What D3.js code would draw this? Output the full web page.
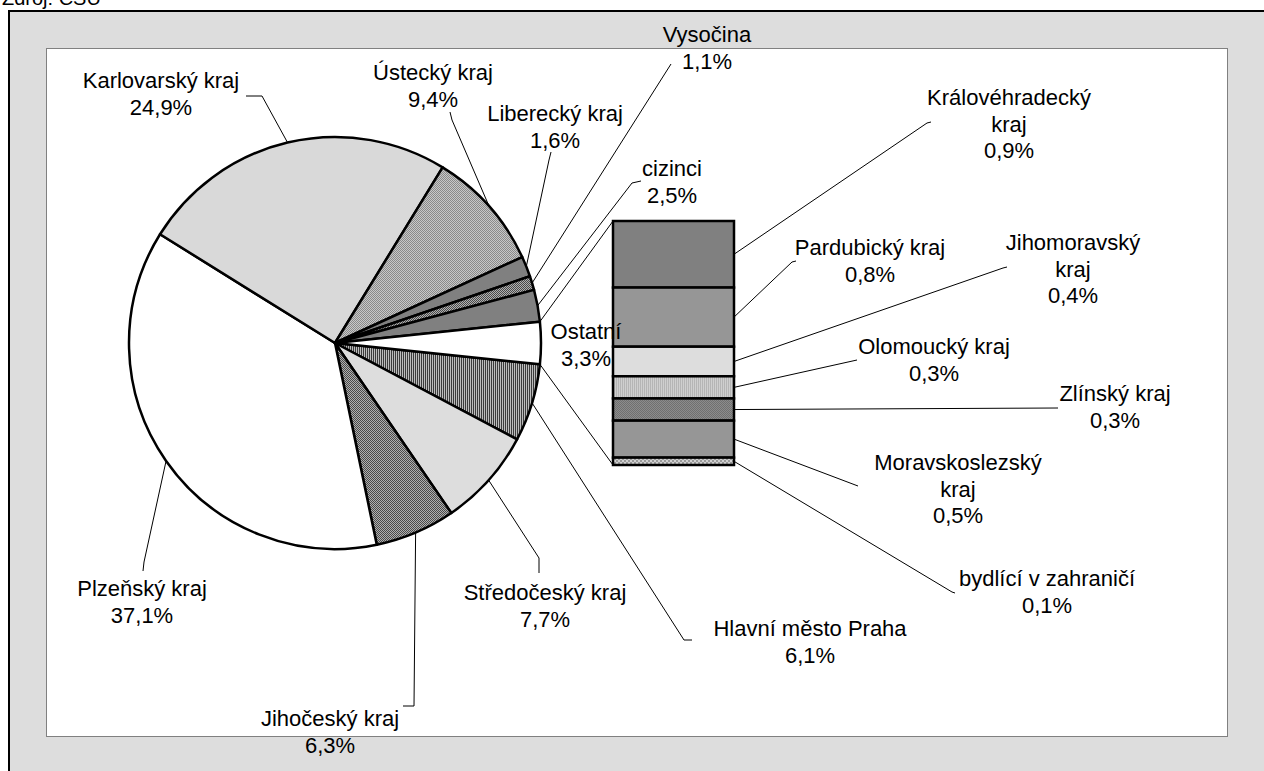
<!DOCTYPE html>
<html>
<head>
<meta charset="utf-8">
<script src="https://cdn.jsdelivr.net/npm/d3@7"></script>
<style>
  body { margin: 0; background: #fff; overflow: hidden; }
  svg { display: block; font-family: Arial, "Liberation Sans", sans-serif; }
</style>
</head>
<body>
<svg id="chart" width="1264" height="771"></svg>
<script>
// data
const pieNames = ['Hlavní město Praha', 'Středočeský kraj', 'Jihočeský kraj', 'Plzeňský kraj', 'Karlovarský kraj',
                  'Ústecký kraj', 'Liberecký kraj', 'Vysočina', 'cizinci', 'Ostatní'];
const pieValues = [6.1, 7.7, 6.3, 37.1, 24.9, 9.4, 1.6, 1.1, 2.5, 3.3];
const barNames = ['Královéhradecký kraj', 'Pardubický kraj', 'Jihomoravský kraj', 'Olomoucký kraj',
                  'Zlínský kraj', 'Moravskoslezský kraj', 'bydlící v zahraničí'];
const barValues = [0.9, 0.8, 0.4, 0.3, 0.3, 0.5, 0.1];
const sourceNote = 'Zdroj: ČSÚ';

// fills (excel style patterns)
const fills = {
  'Hlavní město Praha': 'url(#vstripe)',
  'Středočeský kraj': '#dddddd',
  'Jihočeský kraj': 'url(#checkDark)',
  'Plzeňský kraj': '#ffffff',
  'Karlovarský kraj': '#d9d9d9',
  'Ústecký kraj': 'url(#checkMid)',
  'Liberecký kraj': '#808080',
  'Vysočina': 'url(#checkDark)',
  'cizinci': '#808080',
  'Ostatní': '#ffffff',
  'Královéhradecký kraj': '#808080',
  'Pardubický kraj': '#969696',
  'Jihomoravský kraj': '#dddddd',
  'Olomoucký kraj': 'url(#vstripeLight)',
  'Zlínský kraj': 'url(#checkSoft)',
  'Moravskoslezský kraj': '#969696',
  'bydlící v zahraničí': 'url(#checkLight)'
};

// label placement: centre x, first baseline, leader bend points
const labelPos = {
  'Hlavní město Praha': { x: 810, y: 636, leader: [[684, 640], [692, 640]] },
  'Středočeský kraj': { x: 545, y: 600, leader: [[539, 558], [539, 573]] },
  'Jihočeský kraj': { x: 330, y: 726, leader: [[414, 706], [403, 706]] },
  'Plzeňský kraj': { x: 142, y: 596, leader: [[144, 562], [143, 571]] },
  'Karlovarský kraj': { x: 161, y: 88, leader: [[262, 96], [246, 96]] },
  'Ústecký kraj': { x: 433, y: 80, leader: [[452, 120], [450, 112]] },
  'Liberecký kraj': { x: 555, y: 121, leader: [[549, 160], [551, 152]] },
  'Vysočina': { x: 707, y: 42, leader: [[671, 64]] },
  'cizinci': { x: 672, y: 176, leader: [[632, 183], [641, 181]] },
  'Ostatní': { x: 586, y: 339, leader: null },
  'Královéhradecký kraj': { x: 1009, y: 105, wrap: true, leader: [[927, 123], [931, 122]] },
  'Pardubický kraj': { x: 870, y: 255, leader: [[792, 262], [796, 261]] },
  'Jihomoravský kraj': { x: 1073, y: 250, wrap: true, leader: [[1003, 268], [1007, 267]] },
  'Olomoucký kraj': { x: 934, y: 354, leader: [[857, 360]] },
  'Zlínský kraj': { x: 1115, y: 401, leader: [[1058, 408]] },
  'Moravskoslezský kraj': { x: 958, y: 470, wrap: true, leader: [[858, 486]] },
  'bydlící v zahraničí': { x: 1047, y: 586, leader: [[952, 592], [955, 593]] }
};

const cx = 335, cy = 343, radius = 206;
const barX = 613, barW = 121;
const fontSize = 22, lineGap = 26.5;

const locale = d3.formatLocale({ decimal: ',', thousands: ' ', grouping: [3], currency: ['', ''] });
const fmt = v => locale.format('.1f')(v) + '%';

const svg = d3.select('#chart');
const defs = svg.append('defs');

function addPattern(id, w, h, bg, cells) {
  const p = defs.append('pattern')
                .attr('id', id)
                .attr('patternUnits', 'userSpaceOnUse')
                .attr('width', w)
                .attr('height', h);
  p.append('rect').attr('width', w).attr('height', h).attr('fill', bg);
  cells.forEach(c => {
    p.append('rect').attr('x', c[0]).attr('y', c[1]).attr('width', c[2]).attr('height', c[3]).attr('fill', c[4]);
  });
}
addPattern('vstripe', 2, 2, '#bdbdbd', [[0, 0, 1, 2, '#3c3c3c']]);
addPattern('vstripeLight', 2, 2, '#cfcfcf', [[0, 0, 1, 2, '#b5b5b5']]);
addPattern('checkDark', 2, 2, '#b0b0b0', [[0, 0, 1, 1, '#4a4a4a'], [1, 1, 1, 1, '#4a4a4a']]);
addPattern('checkMid', 2, 2, '#c8c8c8', [[0, 0, 1, 1, '#8a8a8a'], [1, 1, 1, 1, '#8a8a8a']]);
addPattern('checkSoft', 2, 2, '#8c8c8c', [[0, 0, 1, 1, '#707070'], [1, 1, 1, 1, '#707070']]);
addPattern('checkLight', 4, 4, '#d0d0d0', [[0, 0, 2, 2, '#9a9a9a'], [2, 2, 2, 2, '#9a9a9a']]);

// frame
svg.append('rect')
   .attr('x', 9).attr('y', 11)
   .attr('width', 1270).attr('height', 780)
   .attr('fill', '#dddddd')
   .attr('stroke', '#000')
   .attr('stroke-width', 2);
svg.append('rect')
   .attr('x', 46.5).attr('y', 48.5)
   .attr('width', 1181).attr('height', 688)
   .attr('fill', '#fff')
   .attr('stroke', '#808080')
   .attr('stroke-width', 1);
svg.append('text')
   .attr('x', 2).attr('y', 5)
   .attr('font-size', 20)
   .text(sourceNote);

// pie
const pieData = pieNames.map((n, i) => ({ name: n, value: pieValues[i] }));
const otherShare = pieValues[pieValues.length - 1] / d3.sum(pieValues);
const start = Math.PI / 2 + Math.PI * otherShare;
const arcs = d3.pie()
               .sort(null)
               .value(d => d.value)
               .startAngle(start)
               .endAngle(start + 2 * Math.PI)(pieData);
const arc = d3.arc().innerRadius(0).outerRadius(radius);
const onArc = a => [cx + radius * Math.sin(a), cy - radius * Math.cos(a)];

const gPie = svg.append('g').attr('transform', `translate(${cx},${cy})`);
gPie.selectAll('path')
    .data(arcs)
    .enter()
    .append('path')
    .attr('d', arc)
    .attr('fill', d => fills[d.data.name])
    .attr('stroke', '#000')
    .attr('stroke-width', 2.5)
    .attr('stroke-linejoin', 'round');

// bar of "Ostatní"
const barData = barNames.map((n, i) => ({ name: n, value: barValues[i] }));
let acc = 0;
barData.forEach(d => { d.y0 = acc; acc += d.value; d.y1 = acc; });
const yBar = d3.scaleLinear().domain([0, acc]).range([221, 465]);

svg.append('g')
   .selectAll('rect')
   .data(barData)
   .enter()
   .append('rect')
   .attr('x', barX)
   .attr('y', d => yBar(d.y0))
   .attr('width', barW)
   .attr('height', d => yBar(d.y1) - yBar(d.y0))
   .attr('fill', d => fills[d.name])
   .attr('stroke', '#000')
   .attr('stroke-width', 2.5);

// series lines from pie to bar
const other = arcs[arcs.length - 1];
const line = d3.line();
const gLines = svg.append('g')
                  .attr('fill', 'none')
                  .attr('stroke', '#000')
                  .attr('stroke-width', 1);
gLines.append('path').attr('d', line([onArc(other.startAngle), [barX, yBar(0)]]));
gLines.append('path').attr('d', line([onArc(other.endAngle), [barX, yBar(acc)]]));

// leader lines
const labels = [];
arcs.forEach(d => {
  labels.push({ name: d.data.name, value: d.data.value, from: onArc((d.startAngle + d.endAngle) / 2) });
});
barData.forEach(d => {
  labels.push({ name: d.name, value: d.value, from: [barX + barW, yBar((d.y0 + d.y1) / 2)] });
});

labels.forEach(l => {
  const pos = labelPos[l.name];
  if (pos.leader) {
    gLines.append('path').attr('d', line([l.from].concat(pos.leader)));
  }
});

// labels
const gText = svg.append('g')
                 .attr('font-size', fontSize)
                 .attr('text-anchor', 'middle')
                 .attr('fill', '#000');
labels.forEach(l => {
  const pos = labelPos[l.name];
  let rows = [l.name];
  if (pos.wrap) {
    const k = l.name.lastIndexOf(' ');
    rows = [l.name.slice(0, k), l.name.slice(k + 1)];
  }
  rows.push(fmt(l.value));
  const t = gText.append('text').attr('x', pos.x).attr('y', pos.y);
  rows.forEach((r, i) => {
    t.append('tspan').attr('x', pos.x).attr('dy', i === 0 ? 0 : lineGap).text(r);
  });
});
</script>
</body>
</html>
